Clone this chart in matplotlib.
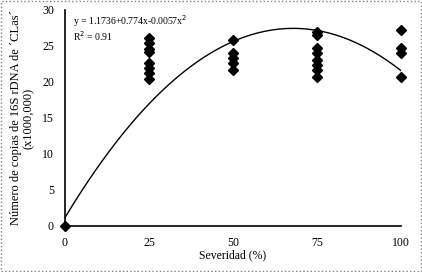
import matplotlib
matplotlib.use('Agg')
import matplotlib.pyplot as plt
from matplotlib.patches import Rectangle
import numpy as np

plt.rcParams['font.family'] = ['Liberation Serif', 'DejaVu Serif']

severity = [0,
            25, 25, 25, 25, 25, 25, 25, 25,
            50, 50, 50, 50, 50,
            75, 75, 75, 75, 75, 75, 75, 75,
            100, 100, 100, 100]
copies = [0.0,
          26.1, 25.4, 24.6, 24.2, 22.6, 21.9, 21.3, 20.4,
          25.8, 24.0, 23.3, 22.6, 21.7,
          26.9, 26.5, 24.7, 24.0, 23.1, 22.4, 21.7, 20.7,
          27.2, 24.7, 24.0, 20.7]
coef = [1.1736, 0.774, -0.0057]
x_ticks = [0, 25, 50, 75, 100]
y_ticks = [0, 5, 10, 15, 20, 25, 30]

fig = plt.figure(figsize=(4.22, 2.72), dpi=100)
ax = fig.add_axes([65 / 422, 1 - 226 / 272, 336 / 422, 216 / 272])

xs = np.linspace(0, 100, 200)
ax.plot(xs, coef[0] + coef[1] * xs + coef[2] * xs ** 2, color='black', lw=1.0)
ax.plot(severity, copies, linestyle='none', marker='D', ms=5.5,
        color='black', clip_on=False, zorder=3)

ax.set_xlim(0, 100)
ax.set_ylim(0, 30)
ax.set_xticks(x_ticks)
ax.set_yticks(y_ticks)
ax.tick_params(length=0, labelsize=8.5, pad=8)
for side in ('top', 'right'):
    ax.spines[side].set_visible(False)
ax.spines['left'].set_linewidth(1.2)
ax.spines['bottom'].set_linewidth(1.2)

ax.set_xlabel('Severidad (%)', fontsize=8.5, labelpad=0)
ax.set_ylabel('Número de copias de 16S rDNA de ´CLas´\n(x1000,000)',
              fontsize=9, labelpad=5, linespacing=1.1)

ax.text(0.025, 0.985, r'y = 1.1736+0.774x-0.0057x$^2$', transform=ax.transAxes,
        fontsize=7, va='top', ha='left')
ax.text(0.025, 0.91, r'R$^2$ = 0.91', transform=ax.transAxes,
        fontsize=7, va='top', ha='left')

fig.patches.append(Rectangle((0.002, 0.003), 0.996, 0.994, transform=fig.transFigure,
                             fill=False, edgecolor='gray', linestyle=':', lw=1.0))

fig.savefig('out.png', dpi=100)
